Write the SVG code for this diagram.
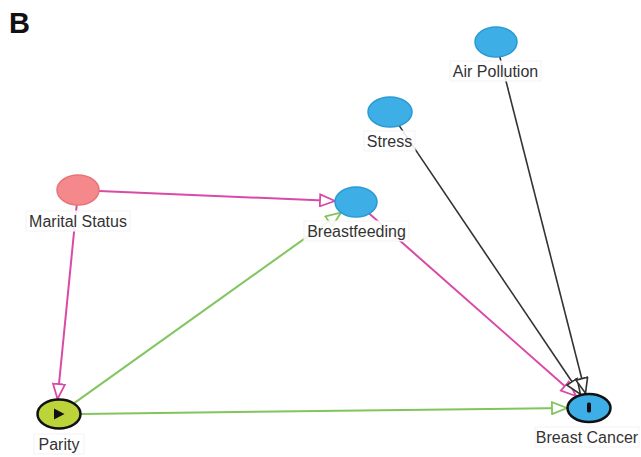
<svg xmlns="http://www.w3.org/2000/svg" width="641" height="457" viewBox="0 0 641 457">
<style>
.lbl{font-family:"Liberation Sans",Arial,sans-serif;font-size:16px;fill:#333333;text-anchor:middle}
.lb{fill:#ffffff;fill-opacity:0.88;stroke:#f3f3f3;stroke-width:1}
.e{fill:none;stroke-width:2}
.pink{stroke:#d94aa6}
.green{stroke:#82c45e}
.black{stroke:#333333;stroke-width:1.6}
.blue{fill:#3eaee6;stroke:#2a9ad2;stroke-width:1.5}
</style>
<defs>
<marker id="ap" markerUnits="userSpaceOnUse" viewBox="-16 -7 17 14" refX="0" refY="0" markerWidth="17" markerHeight="14" orient="auto">
<path d="M0,0 L-15,-6 L-15,6 Z" fill="#ffffff" stroke="#d94aa6" stroke-width="1.8"/>
</marker>
<marker id="ag" markerUnits="userSpaceOnUse" viewBox="-16 -7 17 14" refX="0" refY="0" markerWidth="17" markerHeight="14" orient="auto">
<path d="M0,0 L-15,-6 L-15,6 Z" fill="#ffffff" stroke="#82c45e" stroke-width="1.8"/>
</marker>
<marker id="ab" markerUnits="userSpaceOnUse" viewBox="-16 -7 17 14" refX="0" refY="0" markerWidth="17" markerHeight="14" orient="auto">
<path d="M0,0 L-15,-6 L-15,6 Z" fill="#ffffff" stroke="#333333" stroke-width="1.6"/>
</marker>
</defs>
<rect width="641" height="457" fill="#ffffff"/>
<text x="9" y="33" font-family="Liberation Sans,Arial,sans-serif" font-size="29" font-weight="bold" fill="#111">B</text>
<g id="connectors">
<line class="e pink" x1="99" y1="191" x2="335" y2="201" marker-end="url(#ap)"/>
<line class="e pink" x1="76.7" y1="205" x2="57.5" y2="399" marker-end="url(#ap)"/>
<line class="e green" x1="74.2" y1="403.1" x2="341" y2="212.6" marker-end="url(#ag)"/>
<line class="e green" x1="81" y1="414" x2="567" y2="408" marker-end="url(#ag)"/>
<line class="e pink" x1="369.2" y1="213.6" x2="576" y2="396" marker-end="url(#ap)"/>
<line class="e black" x1="399.2" y1="125.6" x2="580.4" y2="394.2" marker-end="url(#ab)"/>
<line class="e black" x1="499.8" y1="56.7" x2="585.5" y2="393.2" marker-end="url(#ab)"/>
</g>
<g id="node-marital-status">
<ellipse cx="78" cy="190" rx="21" ry="15" fill="#f4888a" stroke="#e87478" stroke-width="1.5"/>
<rect class="lb" x="26" y="211" width="104" height="20"/>
<text class="lbl" x="78" y="227">Marital Status</text>
</g>
<g id="node-breastfeeding">
<ellipse class="blue" cx="356" cy="202" rx="21" ry="15"/>
<rect class="lb" x="304" y="221" width="105" height="20"/>
<text class="lbl" x="356.5" y="237">Breastfeeding</text>
</g>
<g id="node-stress">
<ellipse class="blue" cx="390" cy="112" rx="22" ry="15"/>
<rect class="lb" x="364" y="131" width="51" height="20"/>
<text class="lbl" x="389.5" y="147">Stress</text>
</g>
<g id="node-air-pollution">
<ellipse class="blue" cx="496" cy="42" rx="21" ry="15"/>
<rect class="lb" x="450" y="61" width="91" height="20"/>
<text class="lbl" x="495.5" y="77">Air Pollution</text>
</g>
<g id="node-parity">
<ellipse cx="59" cy="414" rx="21.5" ry="14.5" fill="#bcd43a" stroke="#111" stroke-width="2.5"/>
<path d="M54,408.5 L64.5,414 L54,419.5 Z" fill="#111"/>
<rect class="lb" x="34" y="434" width="50" height="20"/>
<text class="lbl" x="59" y="450">Parity</text>
</g>
<g id="node-breast-cancer">
<ellipse cx="589" cy="408" rx="21.5" ry="14" fill="#3eaee6" stroke="#111" stroke-width="2.5"/>
<rect x="587" y="402.5" width="4" height="10" rx="1.5" fill="#111"/>
<rect class="lb" x="535" y="427" width="104" height="20"/>
<text class="lbl" x="587" y="443">Breast Cancer</text>
</g>
</svg>
